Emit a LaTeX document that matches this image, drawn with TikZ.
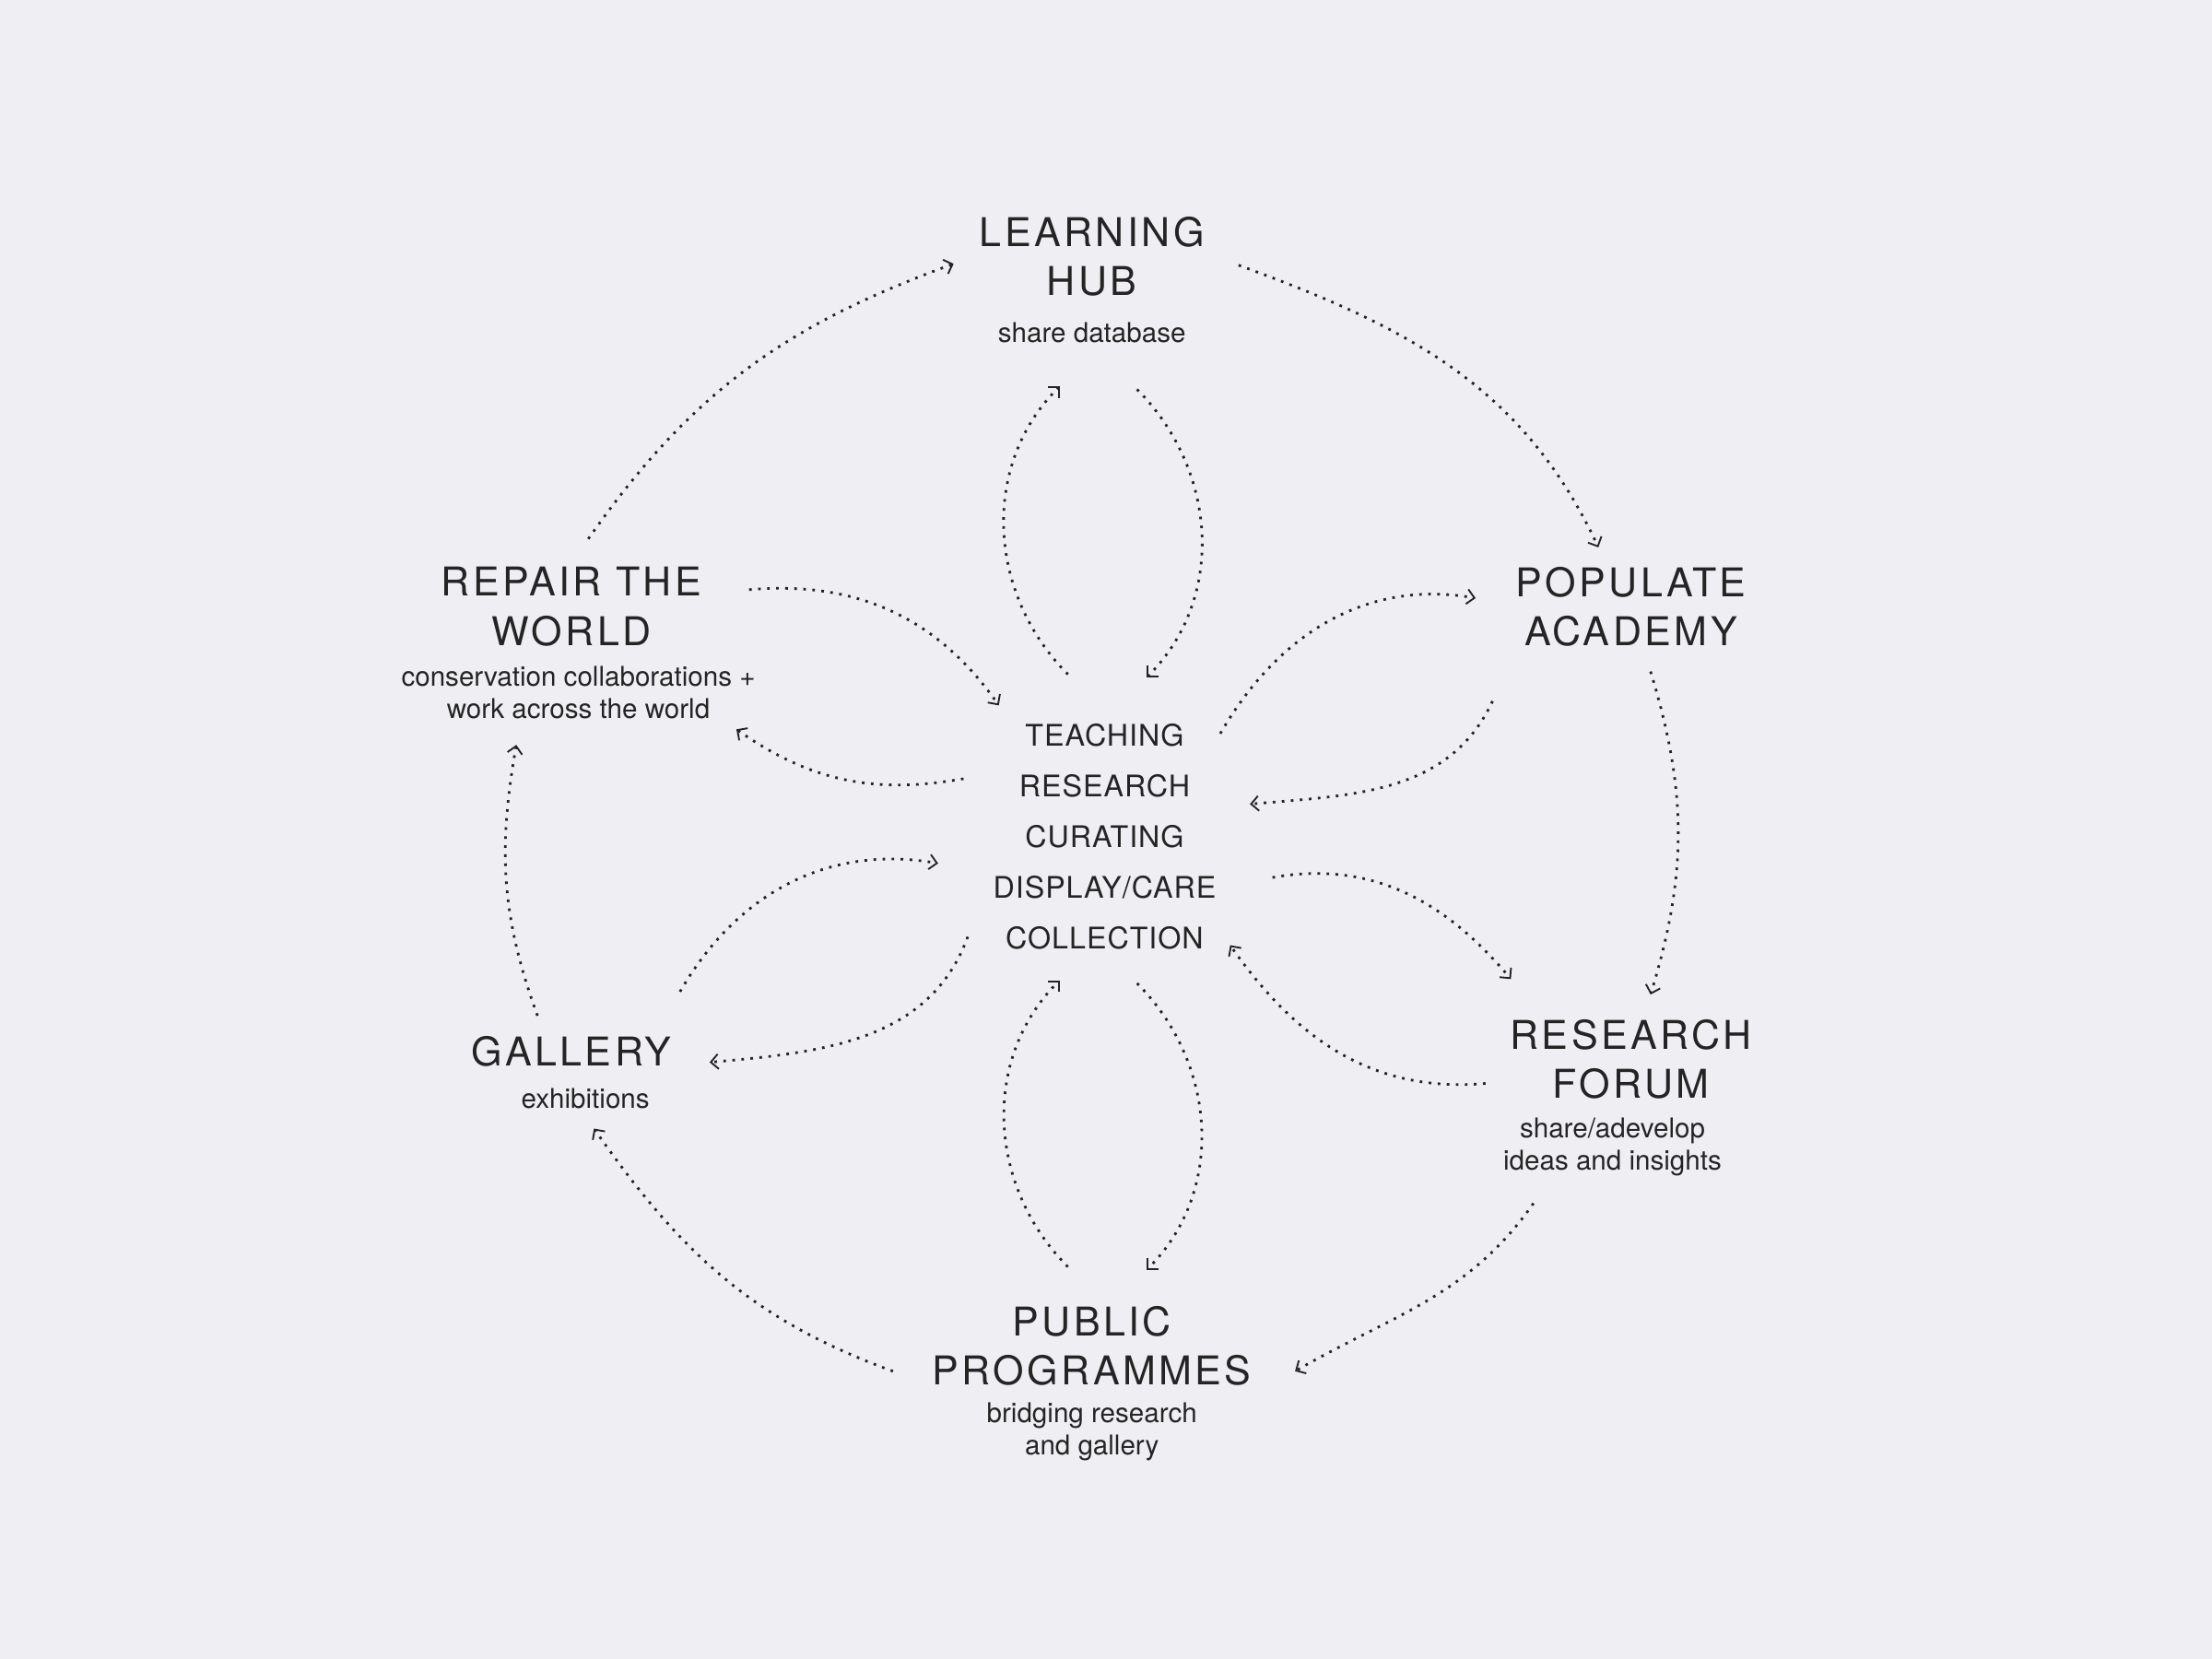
\documentclass[tikz,border=0pt]{standalone}
\usepackage{fontspec}
\setmainfont{TeX Gyre Heros}
\newfontfamily\titlefont[LetterSpace=8]{TeX Gyre Heros}
\newfontfamily\corefont[LetterSpace=3]{TeX Gyre Heros}
\usetikzlibrary{arrows.meta,positioning,calc}
\definecolor{paper}{RGB}{239,239,243}
\definecolor{ink}{RGB}{36,36,36}
\tikzset{
  unittitle/.style={align=center, text=ink, inner sep=0pt, font=\titlefont\fontsize{16}{19.8}\selectfont},
  unitnote/.style={align=center, text=ink, inner sep=0pt, font=\fontsize{11}{13}\selectfont},
  corelist/.style={align=center, text=ink, inner sep=0pt, font=\corefont\fontsize{12}{20.4}\selectfont},
  flow/.style={draw=ink, line width=1.05pt, dash pattern=on 1.05pt off 2.6pt,
    -{Straight Barb[length=3pt,width=6pt,line width=0.7pt]}}
}

\begin{document}
\begin{tikzpicture}[x=0.02cm,y=0.02cm]
\useasboundingbox[fill=paper] (0,0) rectangle (1568,-1176);

% Units round the circle
\node[unittitle] (hub) at (774,-182) {LEARNING\\HUB};
\node[unitnote] (hubnote) at (774,-236) {share database};

\node[unittitle] (populate) at (1156,-430) {POPULATE\\ACADEMY};

\node[unittitle] (repair) at (405,-430) {REPAIR THE\\WORLD};
\node[unitnote] (repairnote) at (410,-491) {conservation collaborations +\\work across the world};

\node[unittitle] (gallery) at (405,-745) {GALLERY};
\node[unitnote] (gallerynote) at (415,-779) {exhibitions};

\node[unittitle] (forum) at (1156,-751) {RESEARCH\\FORUM};
\node[unitnote] (forumnote) at (1143,-813) {share/adevelop\\ideas and insights};

\node[unittitle] (public) at (774,-954) {PUBLIC\\PROGRAMMES};
\node[unitnote] (publicnote) at (774,-1015) {bridging research\\and gallery};

% Core activities
\node[corelist] (core) at (783,-593) {TEACHING\\RESEARCH\\CURATING\\DISPLAY/CARE\\COLLECTION};

% Outer cycle
\foreach \s/\sx/\sy/\t/\tx/\ty/\o/\i in {
    repair/12/48/hub/-98/-5/55/200,
    hub/104/-6/populate/-23/42/-20/115,
    populate/14/-46/forum/14/46/-73/73,
    forum/-69/-102/public/144/-18/235/30,
    public/-141/-18/gallery/16/-55/160/-55,
    gallery/-24/25/repair/-39/-98/110/-100} {
    \draw[flow] ([shift={(\sx,\sy)}]\s.center) to[out=\o,in=\i] ([shift={(\tx,\ty)}]\t.center);
}

% Exchanges with the core
\foreach \s/\sx/\sy/\t/\tx/\ty/\o/\i in {
    core/-26/115/hub/-23/-92/135/225,
    hub/32/-94/core/30/113/-45/45,
    public/-17/56/core/-32/-102/135/225,
    core/23/-104/public/39/54/-45/45,
    core/82/73/populate/-110/6/60/170,
    populate/-98/-67/core/103/23/245/5,
    repair/126/12/core/-75/93/5/125,
    core/-100/41/repair/117/-87/190/-35,
    gallery/77/42/core/-118/-19/60/170,
    core/-97/-71/gallery/98/-8/250/5,
    core/119/-29/forum/-85/57/10/130,
    forum/-103/-17/core/89/-77/185/-55} {
    \draw[flow] ([shift={(\sx,\sy)}]\s.center) to[out=\o,in=\i] ([shift={(\tx,\ty)}]\t.center);
}

\end{tikzpicture}
\end{document}
